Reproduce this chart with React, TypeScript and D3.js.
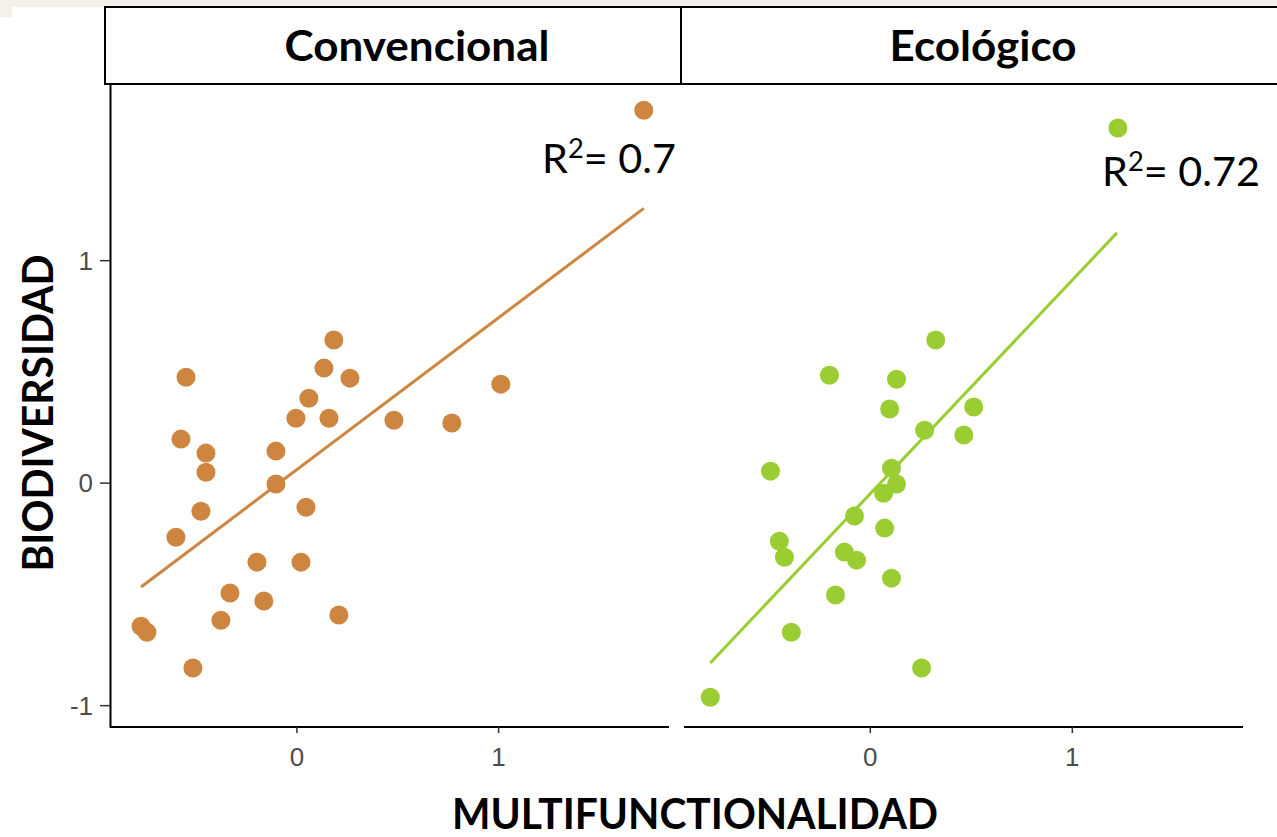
import React from 'react';
import * as d3 from 'd3';

// facet labels and fit labels
const panelNames = ['Convencional', 'Ecológico'];
const r2Values = ['0.7', '0.72'];

// Convencional: multifuncionalidad (x) vs biodiversidad (y)
const convX = [1.720, 0.183, 0.134, 0.263, -0.550, 1.011, 0.059, -0.005, 0.159, 0.481,
  0.768, -0.575, -0.451, -0.104, -0.451, -0.104, 0.045, -0.476, -0.600, -0.198,
  0.020, -0.332, -0.164, -0.377, 0.208, -0.773, -0.744, -0.516];
const convY = [1.676, 0.643, 0.517, 0.472, 0.476, 0.445, 0.382, 0.292, 0.292, 0.283,
  0.270, 0.198, 0.135, 0.144, 0.049, -0.004, -0.108, -0.126, -0.243, -0.355,
  -0.355, -0.494, -0.530, -0.616, -0.593, -0.643, -0.670, -0.831];

// Ecológico
const ecoX = [1.226, 0.324, -0.202, 0.130, 0.096, 0.512, 0.269, 0.463, -0.494, 0.105,
  0.130, 0.066, -0.078, 0.071, -0.450, -0.425, -0.128, -0.068, 0.105, -0.172,
  -0.391, 0.254, -0.792];
const ecoY = [1.596, 0.643, 0.485, 0.467, 0.333, 0.342, 0.238, 0.216, 0.054, 0.067,
  -0.004, -0.045, -0.148, -0.202, -0.261, -0.333, -0.310, -0.346, -0.427, -0.503,
  -0.670, -0.831, -0.962];

// lm fit end points
const fitConvX = [-0.773, 1.720];
const fitConvY = [-0.467, 1.235];
const fitEcoX = [-0.792, 1.221];
const fitEcoY = [-0.808, 1.125];

const xTicks = [0, 1];
const yTicks = [1, 0, -1];

const colors = ['#cd853f', '#9acd32'];

export default function App() {
  const x = d3.scaleLinear().domain([-0.922, 1.845]);
  const xScales = [x.copy().range([111, 669]), x.copy().range([684, 1243])];
  const y = d3.scaleLinear().domain([-1.096, 1.794]).range([727, 84]);

  const series = [
    { xs: convX, ys: convY, fx: fitConvX, fy: fitConvY },
    { xs: ecoX, ys: ecoY, fx: fitEcoX, fy: fitEcoY },
  ];

  const stripBoxes = [[105, 681], [681, 1290]];
  const stripTextX = [417, 983];
  const stripTextLen = [265, 187];
  const r2Pos = [[542, 173, 134], [1102, 186, 158]];

  return (
    <svg width={1277} height={837} style={{ position: 'absolute', left: 0, top: 0 }}
      fontFamily="Lato, 'Open Sans', sans-serif">
      <rect x={0} y={0} width={1277} height={837} fill="#fff" />
      <rect x={0} y={0} width={1277} height={7} fill="#f5f0ea" />
      <rect x={0} y={0} width={12} height={17} fill="#f5f0ea" />

      {series.map((s, i) => {
        const sx = xScales[i];
        const line = d3.line<number>().x(d => sx(s.fx[d])).y(d => y(s.fy[d]));
        return (
          <g key={i}>
            {s.xs.map((v, j) => (
              <circle key={j} cx={sx(v)} cy={y(s.ys[j])} r={9.5} fill={colors[i]} />
            ))}
            <path d={line([0, 1]) || ''} fill="none" stroke={colors[i]} strokeWidth={3} />
            {/* x axis */}
            <line x1={sx.range()[0]} x2={sx.range()[1]} y1={727} y2={727} stroke="#000" strokeWidth={2} />
            {xTicks.map(t => (
              <g key={t}>
                <line x1={sx(t)} x2={sx(t)} y1={727} y2={733} stroke="#333" strokeWidth={1.5} />
                <text x={sx(t)} y={766} textAnchor="middle" fontSize={26} fill="#4d4d4d"
                  fontFamily="'Liberation Sans', Arial, sans-serif">{t}</text>
              </g>
            ))}
            <text x={r2Pos[i][0]} y={r2Pos[i][1]} fontSize={41} fill="#000"
              textLength={r2Pos[i][2]} lengthAdjust="spacingAndGlyphs">
              R<tspan fontSize={27} dy={-15}>2</tspan><tspan dy={15}>= {r2Values[i]}</tspan>
            </text>
          </g>
        );
      })}

      {/* y axis (left panel only) */}
      <line x1={110.5} x2={110.5} y1={84} y2={728} stroke="#000" strokeWidth={2} />
      {yTicks.map(t => (
        <g key={t}>
          <line x1={100} x2={110} y1={y(t)} y2={y(t)} stroke="#333" strokeWidth={1.5} />
          <text x={93} y={y(t) + 9} textAnchor="end" fontSize={26} fill="#4d4d4d"
            fontFamily="'Liberation Sans', Arial, sans-serif">{t}</text>
        </g>
      ))}

      {/* facet strips */}
      {panelNames.map((name, i) => (
        <g key={name}>
          <rect x={stripBoxes[i][0]} y={7} width={stripBoxes[i][1] - stripBoxes[i][0]} height={77}
            fill="#fff" stroke="#000" strokeWidth={2} />
          <text x={stripTextX[i]} y={61} textAnchor="middle" fontSize={42} fontWeight="bold"
            textLength={stripTextLen[i]} lengthAdjust="spacingAndGlyphs">{name}</text>
        </g>
      ))}

      {/* axis titles */}
      <text x={695} y={829} textAnchor="middle" fontSize={42} fontWeight="bold"
        textLength={486} lengthAdjust="spacingAndGlyphs">MULTIFUNCTIONALIDAD</text>
      <text transform="translate(53,413) rotate(-90)" textAnchor="middle" fontSize={42}
        fontWeight="bold" textLength={317} lengthAdjust="spacingAndGlyphs">BIODIVERSIDAD</text>
    </svg>
  );
}
